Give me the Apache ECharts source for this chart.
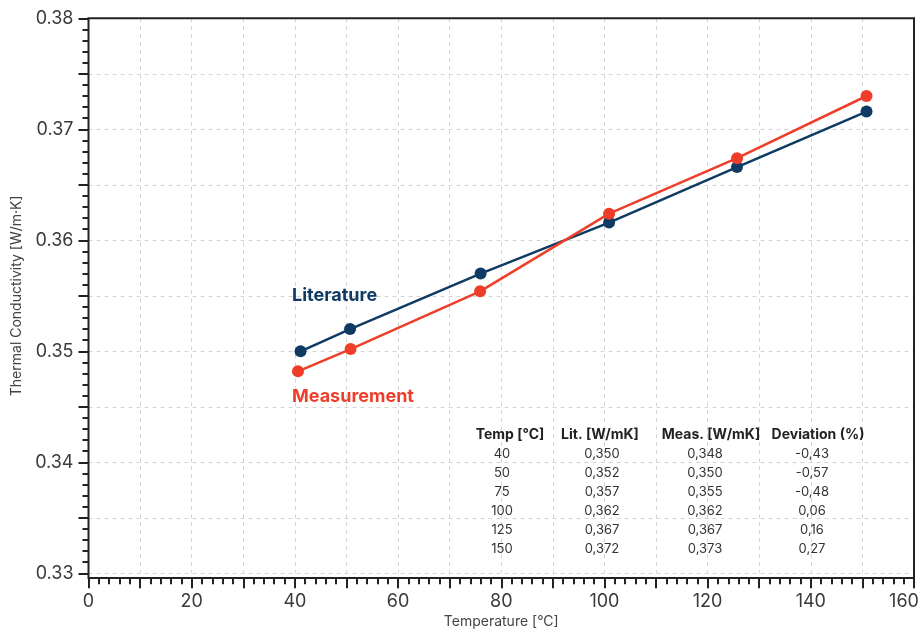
<!DOCTYPE html>
<html>
<head>
<meta charset="utf-8">
<title>Thermal Conductivity vs Temperature</title>
<script src="https://cdn.jsdelivr.net/npm/echarts@6/dist/echarts.min.js"></script>
<style>
  html, body { margin: 0; padding: 0; background: #ffffff; }
  #chart { width: 923px; height: 631px; }
</style>
</head>
<body>
<div id="chart"></div>
<script>
// Nominal test temperatures shown in the summary table
const tableTemps = [40, 50, 75, 100, 125, 150];
// Actual temperatures at which each series was recorded (°C)
const litTemps = [41.1, 50.7, 76.0, 100.9, 125.7, 150.8];
const measTemps = [40.6, 50.8, 75.9, 100.9, 125.7, 150.8];
// Thermal conductivity, W/m·K
const litValues = [0.3500, 0.3520, 0.3570, 0.3616, 0.3666, 0.3716];
const measValues = [0.3482, 0.3502, 0.3554, 0.3624, 0.3674, 0.3730];
// Relative deviation of measurement from literature (%)
const deviations = ['-0,43', '-0,57', '-0,48', '0,06', '0,16', '0,27'];
// Table column headers
const tableHeaders = ['Temp [°C]', 'Lit. [W/mK]', 'Meas. [W/mK]', 'Deviation (%)'];

const X_MAX = 160;

const NAVY = '#0f3a63';
const RED = '#ee3e2a';
const FONT = 'Inter, "Noto Sans", sans-serif';
const AXIS_COLOR = '#222';
const GRID_COLOR = '#d4d4d4';
const LABEL_COLOR = '#3a3a3a';

const fmt3 = v => v.toFixed(3).replace('.', ',');

// Summary table drawn as text elements
const headerX = [510, 600, 711, 818];
const valueX = [502, 602, 705, 812];
const headerY = 435;
const rowStep = 19;
const tableGraphics = [];
tableHeaders.forEach((h, c) => {
  tableGraphics.push({
    type: 'text', z: 100,
    style: { x: headerX[c], y: headerY, text: h, fill: '#222', font: 'bold 14px ' + FONT,
             textAlign: 'center', textVerticalAlign: 'middle' }
  });
});
tableTemps.forEach((t, r) => {
  const cells = [String(t), fmt3(litValues[r]), fmt3(measValues[r]), deviations[r]];
  cells.forEach((txt, c) => {
    tableGraphics.push({
      type: 'text', z: 100,
      style: { x: valueX[c], y: headerY + rowStep * (r + 1), text: txt, fill: '#333',
               font: '13px ' + FONT, textAlign: 'center', textVerticalAlign: 'middle' }
    });
  });
});

const chart = echarts.init(document.getElementById('chart'), null, { renderer: 'canvas' });

const tickStyle = { color: AXIS_COLOR, width: 2 };

chart.setOption({
  animation: false,
  backgroundColor: '#ffffff',
  textStyle: { fontFamily: FONT },
  grid: [
    { left: 88.5, right: 9, top: 18.3, bottom: 57.7, containLabel: false, outerBoundsMode: 'none' },
    // frame around the plotting area (extends slightly below the y range)
    { left: 88.5, right: 9, top: 18.3, bottom: 53, show: true, borderColor: AXIS_COLOR,
      borderWidth: 2, backgroundColor: 'transparent', z: 5, outerBoundsMode: 'none' }
  ],
  xAxis: [
    {
      type: 'value', gridIndex: 0, min: 0, max: X_MAX, interval: 10, offset: 5,
      name: 'Temperature [°C]', nameLocation: 'middle', nameGap: 36,
      nameTextStyle: { fontSize: 14, color: '#444', fontFamily: FONT },
      axisLine: { show: false },
      axisTick: { show: true, length: 10, lineStyle: tickStyle },
      minorTick: { show: true, splitNumber: 5, length: 6, lineStyle: tickStyle },
      axisLabel: {
        margin: 14, fontSize: 18, color: LABEL_COLOR, fontFamily: FONT,
        formatter: v => {
          const n = Math.round(v);
          if (n % 20 !== 0) return '';
          // last label is pulled inward so it stays on the canvas
          return n === X_MAX ? '{last|' + n + '}' : String(n);
        },
        rich: {
          last: { fontSize: 18, color: LABEL_COLOR, fontFamily: FONT, padding: [0, 20, 0, 0] }
        }
      },
      splitLine: { show: true, lineStyle: { color: GRID_COLOR, type: [4, 4], width: 1 } }
    },
    { type: 'value', gridIndex: 1, min: 0, max: 1, show: false }
  ],
  yAxis: [
    {
      type: 'value', gridIndex: 0, min: 0.33, max: 0.38, interval: 0.005,
      name: 'Thermal Conductivity [W/m·K]', nameLocation: 'middle', nameGap: 62,
      nameTextStyle: { fontSize: 14, color: '#444', fontFamily: FONT },
      axisLine: { show: false },
      axisTick: { show: true, length: 10, lineStyle: tickStyle },
      minorTick: { show: true, splitNumber: 5, length: 6, lineStyle: tickStyle },
      axisLabel: {
        margin: 15, fontSize: 18, color: LABEL_COLOR, fontFamily: FONT,
        formatter: v => (Math.round(v * 1000) % 10 === 0 ? v.toFixed(2) : '')
      },
      splitLine: { show: true, lineStyle: { color: GRID_COLOR, type: [4, 4], width: 1 } }
    },
    { type: 'value', gridIndex: 1, min: 0, max: 1, show: false }
  ],
  series: [
    {
      name: 'Literature', type: 'line', xAxisIndex: 0, yAxisIndex: 0,
      data: litTemps.map((t, i) => [t, litValues[i]]),
      symbol: 'circle', symbolSize: 12, showSymbol: true,
      lineStyle: { color: NAVY, width: 2.5 },
      itemStyle: { color: NAVY }, z: 3
    },
    {
      name: 'Measurement', type: 'line', xAxisIndex: 0, yAxisIndex: 0,
      data: measTemps.map((t, i) => [t, measValues[i]]),
      symbol: 'circle', symbolSize: 12, showSymbol: true,
      lineStyle: { color: RED, width: 2.5 },
      itemStyle: { color: RED }, z: 4
    }
  ],
  graphic: [
    {
      type: 'text', z: 100,
      style: { x: 292, y: 296, text: 'Literature', fill: NAVY, font: 'bold 18px ' + FONT,
               textVerticalAlign: 'middle' }
    },
    {
      type: 'text', z: 100,
      style: { x: 292, y: 397, text: 'Measurement', fill: RED, font: 'bold 18px ' + FONT,
               textVerticalAlign: 'middle' }
    }
  ].concat(tableGraphics)
});
</script>
</body>
</html>
